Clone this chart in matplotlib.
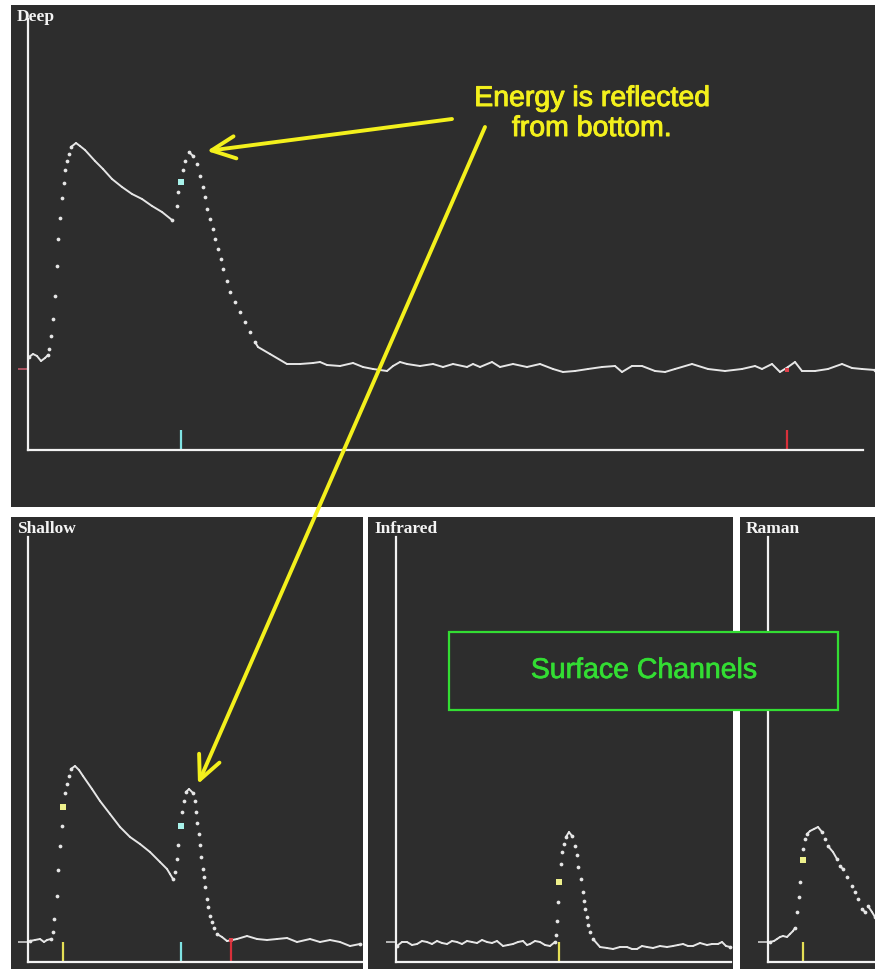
import numpy as np
import matplotlib.pyplot as plt
import matplotlib.patheffects as pe
from matplotlib.collections import LineCollection
from matplotlib.patches import Rectangle

# waveform samples: time bin, amplitude (screen units)
deep_t = [1, 5, 9, 13, 17, 20, 21, 23, 25, 27,
          29, 30, 32, 34, 36, 37, 39, 41, 43, 48,
          52, 57, 67, 75, 84, 94, 104, 114, 124, 134,
          144, 149, 150, 155, 157, 161, 165, 169, 172, 175,
          177, 179, 182, 185, 187, 190, 193, 195, 199, 202,
          207, 212, 217, 222, 227, 230, 242, 259, 272, 285,
          292, 299, 312, 325, 335, 345, 359, 365, 372, 379,
          392, 405, 415, 425, 439, 445, 452, 464, 472, 485,
          499, 512, 525, 535, 547, 560, 574, 587, 594, 604,
          614, 627, 637, 647, 664, 680, 697, 714, 727, 734,
          744, 752, 760, 767, 774, 787, 800, 814, 824, 834,
          847]
deep_amp = [93, 96, 94, 89, 92, 95, 101, 114, 131, 154,
            184, 211, 232, 252, 267, 280, 289, 296, 303, 307,
            304, 300, 289, 281, 271, 263, 256, 251, 244, 238,
            230, 244, 258, 280, 289, 298, 294, 286, 274, 263,
            253, 241, 231, 221, 211, 201, 191, 181, 169, 158,
            148, 138, 128, 118, 108, 103, 96, 86, 86, 87,
            88, 85, 84, 87, 83, 81, 79, 84, 88, 86,
            84, 86, 83, 86, 83, 86, 83, 88, 83, 86,
            83, 86, 81, 78, 79, 81, 83, 84, 78, 84,
            84, 79, 78, 81, 86, 81, 79, 81, 84, 81,
            86, 78, 83, 88, 79, 79, 81, 86, 82, 81,
            80]

shallow_t = [2, 7, 12, 16, 19, 23, 25, 26, 29, 30,
             32, 34, 37, 39, 41, 43, 47, 51, 55, 64,
             72, 82, 92, 102, 112, 122, 132, 139, 142, 145,
             147, 149, 150, 154, 156, 158, 161, 165, 167, 168,
             169, 171, 172, 173, 175, 176, 177, 179, 180, 182,
             184, 186, 189, 194, 199, 209, 219, 229, 239, 249,
             259, 269, 282, 292, 302, 312, 322, 332]
shallow_amp = [21, 22, 23, 20, 22, 23, 30, 43, 66, 92,
               116, 136, 169, 178, 186, 193, 196, 192, 186, 173,
               161, 148, 135, 125, 118, 110, 100, 93, 88, 83,
               90, 103, 117, 150, 161, 170, 173, 169, 161, 150,
               139, 128, 117, 105, 93, 85, 75, 63, 55, 46,
               40, 34, 28, 25, 21, 23, 26, 23, 22, 23,
               24, 20, 23, 20, 22, 20, 16, 18]

ir_t = [1, 6, 11, 16, 21, 26, 31, 36, 41, 46,
        51, 56, 61, 66, 71, 76, 81, 86, 91, 96,
        101, 107, 112, 117, 122, 127, 131, 134, 139, 144,
        149, 154, 159, 160, 161, 162, 165, 166, 168, 170,
        173, 176, 179, 181, 182, 185, 187, 188, 189, 191,
        192, 194, 197, 204, 211, 217, 224, 231, 236, 241,
        246, 251, 257, 264, 271, 277, 282, 287, 292, 297,
        304, 311, 316, 322, 326, 330, 334]
ir_amp = [16, 20, 20, 17, 18, 21, 20, 18, 21, 19,
          18, 21, 20, 18, 21, 20, 19, 22, 20, 19,
          21, 16, 17, 18, 20, 21, 17, 18, 21, 20,
          17, 16, 20, 27, 41, 60, 98, 110, 118, 125,
          130, 126, 116, 107, 95, 83, 70, 61, 53, 45,
          37, 30, 23, 15, 14, 13, 15, 15, 13, 13,
          16, 15, 14, 16, 15, 16, 17, 18, 16, 16,
          19, 17, 18, 18, 20, 16, 15]

raman_t = [2, 6, 9, 12, 15, 19, 22, 25, 27, 29,
           31, 32, 35, 37, 39, 42, 46, 50, 54, 57,
           60, 65, 69, 72, 75, 79, 84, 87, 90, 94,
           97, 100, 104, 107]
raman_amp = [20, 21, 23, 25, 26, 25, 28, 31, 34, 50,
             65, 80, 113, 123, 128, 131, 133, 135, 130, 123,
             116, 110, 103, 96, 93, 85, 76, 70, 63, 53,
             50, 56, 50, 45]

# zero level of each channel and the gate markers (time, amplitude on trace)
deep_zero, shallow_zero, ir_zero, raman_zero = 81, 20, 20, 20
deep_gate_t = [153, 759]
deep_gate_amp = [268, 80]
shallow_gate_t = [35, 153, 203]
shallow_gate_amp = [155, 136, 22]
ir_gate_t = [163]
ir_gate_amp = [80]
raman_gate_t = [35]
raman_gate_amp = [102]

W, H = 875, 970
BG = '#2d2d2d'
TRACE = '#e6e6e6'
AXIS = '#f2f2f2'
YEL = '#f3f01c'
GREEN = '#33dd33'
MARK = {'c': '#a8f2ea', 'y': '#eef08c', 'r': '#e0404a'}
TICK = {'c': '#7fe3e3', 'y': '#e4df55', 'r': '#d8303a'}

fig = plt.figure(figsize=(W / 100, H / 100), dpi=100, facecolor='white')


def rect(x0, y0, x1, y1):
    return [x0 / W, 1 - y1 / H, (x1 - x0) / W, (y1 - y0) / H]


def draw_trace(ax, t, a):
    t = np.asarray(t, float)
    a = np.asarray(a, float)
    # slow parts of the trace look solid, fast edges break up into dots
    joined = np.abs(np.diff(a)) / np.diff(t) < 1.8
    segs = [[(t[i], a[i]), (t[i + 1], a[i + 1])] for i in np.where(joined)[0]]
    ax.add_collection(LineCollection(segs, colors=TRACE, linewidths=1.4,
                                     capstyle='round', joinstyle='round'))
    lone = ~(np.r_[False, joined] & np.r_[joined, False])
    ax.plot(t[lone], a[lone], ls='none', marker='o', ms=2.7, mew=0, color=TRACE)


def channel(panel, plot, title, t, a, zero, zero_col, span, gate_t, gate_a, gate_c):
    bg = fig.add_axes(rect(*panel))
    bg.set_facecolor(BG)
    bg.set_xticks([])
    bg.set_yticks([])
    for s in bg.spines.values():
        s.set_visible(False)

    ax = fig.add_axes(rect(*plot))
    ax.set_facecolor('none')
    ax.set_xlim(0, plot[2] - plot[0])
    ax.set_ylim(0, plot[3] - plot[1])
    ax.set_xticks([])
    ax.set_yticks([])
    ax.spines[['top', 'right']].set_visible(False)
    for s in ('left', 'bottom'):
        ax.spines[s].set_color(AXIS)
        ax.spines[s].set_linewidth(1.6)
    ax.spines['bottom'].set_bounds(0, span)

    draw_trace(ax, t, a)
    ax.hlines(zero, -10, 0, color=zero_col, lw=1.2, clip_on=False)
    for gt, ga, gc in zip(gate_t, gate_a, gate_c):
        ax.vlines(gt, 0, 20, color=TICK[gc], lw=1.6)
        ax.plot(gt, ga, 's', ms=4 if gc != 'r' else 2.5, mew=0, color=MARK[gc])

    fig.text((panel[0] + 6) / W, 1 - (panel[1] + 3) / H, title, ha='left', va='top',
             family='Liberation Serif', weight='bold', size=12.5, color='#f4f4f4')
    return ax


channel((11, 6, 875, 508), (28, 20, 875, 451), 'Deep', deep_t, deep_amp,
        deep_zero, '#c05a6a', 835, deep_gate_t, deep_gate_amp, ['c', 'r'])
channel((11, 518, 363, 970), (28, 538, 363, 963), 'Shallow', shallow_t, shallow_amp,
        shallow_zero, '#d0d0d0', 334, shallow_gate_t, shallow_gate_amp, ['y', 'c', 'r'])
channel((368, 518, 733, 970), (396, 538, 733, 963), 'Infrared', ir_t, ir_amp,
        ir_zero, '#d0d0d0', 335, ir_gate_t, ir_gate_amp, ['y'])
channel((740, 518, 875, 970), (768, 538, 875, 963), 'Raman', raman_t, raman_amp,
        raman_zero, '#d0d0d0', 107, raman_gate_t, raman_gate_amp, ['y'])

# annotation layer in screen pixels
ov = fig.add_axes([0, 0, 1, 1])
ov.set_xlim(0, W)
ov.set_ylim(H, 0)
ov.axis('off')

arrow = dict(arrowstyle='->,head_length=1.7,head_width=0.8', color=YEL, lw=2.8,
             shrinkA=0, shrinkB=0)
ov.annotate('', xy=(207, 152), xytext=(452, 120), arrowprops=arrow)
ov.annotate('', xy=(198, 785), xytext=(485, 128), arrowprops=arrow)
thick = [pe.withStroke(linewidth=0.7, foreground=YEL)]
ov.text(592, 115, 'Energy is reflected\nfrom bottom.', ha='center', va='center',
        multialignment='center', color=YEL, fontsize=20.5, family='Liberation Sans',
        linespacing=1.2, path_effects=thick)

ov.add_patch(Rectangle((449, 633), 389, 78, facecolor=BG, edgecolor=GREEN, lw=1.6))
ov.text(644, 672, 'Surface Channels', ha='center', va='center', color=GREEN,
        fontsize=20.5, family='Liberation Sans',
        path_effects=[pe.withStroke(linewidth=0.5, foreground=GREEN)])

fig.savefig('out.png', dpi=100, facecolor='white')
